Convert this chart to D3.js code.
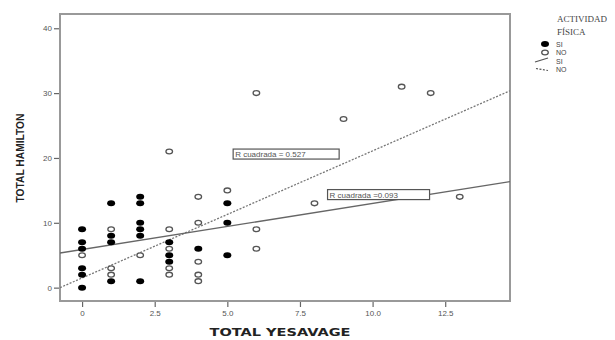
<!DOCTYPE html>
<html>
<head>
<meta charset="utf-8">
<script src="https://cdn.jsdelivr.net/npm/d3@7"></script>
<style>
  body { margin: 0; background: #fff; }
  svg { display: block; }
</style>
</head>
<body>
<div id="chart"></div>
<script>
// data (TOTAL YESAVAGE vs TOTAL HAMILTON)
var siX = [0,0,0,0,0,0, 1,1,1,1, 2,2,2,2,2,2, 3,3,3, 4, 5,5,5];
var siY = [9,7,6,3,2,0, 13,8,7,1, 14,13,10,9,8,1, 7,5,4, 6, 13,10,5];
var noX = [0, 1,1,1, 2, 3,3,3,3,3, 4,4,4,4,4, 5, 6,6,6, 8, 9, 11, 12, 13];
var noY = [5, 9,3,2, 5, 21,9,6,3,2, 14,10,4,2,1, 15, 30,9,6, 13, 26, 31, 30, 14];

// fitted lines: [intercept, slope]
var fitSi = [5.88, 0.711];
var fitNo = [1.49, 1.96];
var r2Labels = ["R cuadrada = 0.527", "R cuadrada =0.093"];

var xTicks = [0, 2.5, 5, 7.5, 10, 12.5];
var xTickLabels = ["0", "2.5", "5.0", "7.5", "10.0", "12.5"];
var yTicks = [0, 10, 20, 30, 40];
var legendLabels = ["SI", "NO", "SI", "NO"];

var margin = {top: 14, right: 105, bottom: 39, left: 60},
    width = 615 - margin.left - margin.right,
    height = 340 - margin.top - margin.bottom;

var svg = d3.select("#chart")
  .append("svg")
  .attr("width", 615)
  .attr("height", 340)
  .append("g")
  .attr("transform", "translate(" + margin.left + "," + margin.top + ")");

var x = d3.scaleLinear().domain([-0.76, 14.73]).range([0, width]);
var y = d3.scaleLinear().domain([-2.06, 42.2]).range([height, 0]);

// axes
var xAxis = svg.append("g")
  .attr("transform", "translate(0," + height + ")")
  .call(d3.axisBottom(x).tickValues(xTicks)
    .tickFormat(function(d, i) { return xTickLabels[i]; })
    .tickSize(6).tickPadding(3));
var yAxis = svg.append("g")
  .call(d3.axisLeft(y).tickValues(yTicks).tickSize(6).tickPadding(2));

[xAxis, yAxis].forEach(function(a) {
  a.select(".domain").remove();
  a.selectAll("line").attr("stroke", "#666").attr("stroke-width", 1.2);
  a.selectAll("text")
    .attr("fill", "#555")
    .style("font-family", "Liberation Sans, Arial, sans-serif")
    .style("font-size", "8px");
});

// frame
svg.append("rect")
  .attr("x", 0).attr("y", 0)
  .attr("width", width).attr("height", height)
  .attr("fill", "none")
  .attr("stroke", "#999")
  .attr("stroke-width", 2);

// fit lines
svg.append("clipPath").attr("id", "plotclip")
  .append("rect").attr("width", width).attr("height", height);

function fitLine(f) {
  var d0 = x.domain();
  return [[d0[0], f[0] + f[1] * d0[0]], [d0[1], f[0] + f[1] * d0[1]]];
}
var line = d3.line().x(function(d) { return x(d[0]); }).y(function(d) { return y(d[1]); });

svg.append("path")
  .attr("clip-path", "url(#plotclip)")
  .attr("d", line(fitLine(fitNo)))
  .attr("fill", "none")
  .attr("stroke", "#777")
  .attr("stroke-width", 1.3)
  .attr("stroke-dasharray", "2,1.5");

svg.append("path")
  .attr("clip-path", "url(#plotclip)")
  .attr("d", line(fitLine(fitSi)))
  .attr("fill", "none")
  .attr("stroke", "#666")
  .attr("stroke-width", 1.3);

// points
svg.append("g")
  .selectAll("ellipse")
  .data(noX.map(function(d, i) { return [d, noY[i]]; }))
  .enter()
  .append("ellipse")
  .attr("cx", function(d) { return x(d[0]); })
  .attr("cy", function(d) { return y(d[1]); })
  .attr("rx", 3.3).attr("ry", 2.4)
  .attr("fill", "#fff")
  .attr("stroke", "#555")
  .attr("stroke-width", 1.3);

svg.append("g")
  .selectAll("ellipse")
  .data(siX.map(function(d, i) { return [d, siY[i]]; }))
  .enter()
  .append("ellipse")
  .attr("cx", function(d) { return x(d[0]); })
  .attr("cy", function(d) { return y(d[1]); })
  .attr("rx", 4).attr("ry", 3)
  .attr("fill", "#000");

// R squared boxes
var boxes = [
  {text: r2Labels[0], x: 5.2, y: 20.6, w: 106},
  {text: r2Labels[1], x: 8.45, y: 14.35, w: 102}
];
boxes.forEach(function(b) {
  var g = svg.append("g").attr("transform", "translate(" + x(b.x) + "," + y(b.y) + ")");
  g.append("rect")
    .attr("x", 0).attr("y", -5)
    .attr("width", b.w).attr("height", 10)
    .attr("fill", "#fff")
    .attr("stroke", "#555")
    .attr("stroke-width", 1.2);
  g.append("text")
    .attr("x", 2).attr("y", 3)
    .attr("fill", "#555")
    .style("font-family", "Liberation Sans, Arial, sans-serif")
    .style("font-size", "8px")
    .text(b.text);
});

// axis titles
svg.append("text")
  .attr("x", 220).attr("y", height + 35)
  .attr("text-anchor", "middle")
  .attr("textLength", 141)
  .attr("lengthAdjust", "spacingAndGlyphs")
  .attr("fill", "#222")
  .style("font-family", "DejaVu Sans, sans-serif")
  .style("font-weight", "bold")
  .style("font-size", "11px")
  .text("TOTAL YESAVAGE");

svg.append("text")
  .attr("transform", "translate(-36," + 144 + ")rotate(-90)")
  .attr("text-anchor", "middle")
  .attr("textLength", 89)
  .attr("lengthAdjust", "spacingAndGlyphs")
  .attr("fill", "#222")
  .style("font-family", "Liberation Sans, Arial, sans-serif")
  .style("font-weight", "bold")
  .style("font-size", "10px")
  .text("TOTAL HAMILTON");

// legend
var legend = d3.select("svg").append("g").attr("transform", "translate(535,0)");
legend.append("text")
  .attr("x", 22).attr("y", 22)
  .attr("fill", "#444")
  .style("font-family", "Liberation Serif, Times New Roman, serif")
  .style("font-size", "9px")
  .text("ACTIVIDAD");
legend.append("text")
  .attr("x", 22).attr("y", 35)
  .attr("fill", "#444")
  .style("font-family", "Liberation Serif, Times New Roman, serif")
  .style("font-size", "9px")
  .text("FÍSICA");

legend.append("ellipse").attr("cx", 10).attr("cy", 44).attr("rx", 4).attr("ry", 3).attr("fill", "#000");
legend.append("ellipse").attr("cx", 10).attr("cy", 52.5).attr("rx", 3.3).attr("ry", 2.4)
  .attr("fill", "#fff").attr("stroke", "#555").attr("stroke-width", 1.3);
legend.append("line").attr("x1", 0).attr("y1", 62).attr("x2", 13).attr("y2", 58)
  .attr("stroke", "#555").attr("stroke-width", 1.2);
legend.append("line").attr("x1", 1).attr("y1", 68.5).attr("x2", 13).attr("y2", 70.5)
  .attr("stroke", "#555").attr("stroke-width", 1.2).attr("stroke-dasharray", "2,1.5");

legend.selectAll(".lg")
  .data(legendLabels)
  .enter()
  .append("text")
  .attr("x", 21)
  .attr("y", function(d, i) { return 46.5 + i * 8.5; })
  .attr("fill", "#444")
  .style("font-family", "Liberation Sans, Arial, sans-serif")
  .style("font-size", "7px")
  .text(function(d) { return d; });
</script>
</body>
</html>
